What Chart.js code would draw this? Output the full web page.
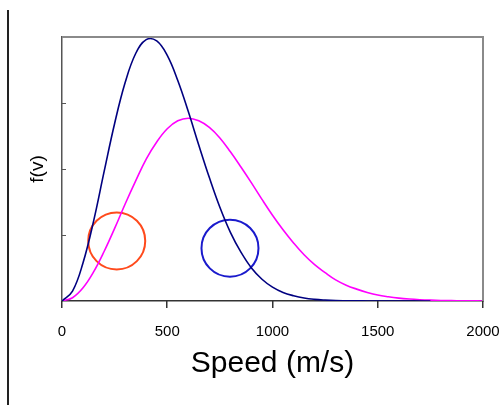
<!DOCTYPE html>
<html>
<head>
<meta charset="utf-8">
<script src="https://cdn.jsdelivr.net/npm/chart.js@4"></script>
<style>
  html, body { margin: 0; padding: 0; background: #fff; }
  #wrap { width: 501px; height: 405px; position: relative; }
</style>
</head>
<body>
<div id="wrap"><canvas id="speedChart" width="501" height="405"></canvas></div>
<script>
// speeds (m/s) sampled every 50
const speeds = [0, 50, 100, 150, 200, 250, 300, 350, 400, 450, 500, 550, 600, 650, 700, 750, 800, 850, 900, 950,
  1000, 1050, 1100, 1150, 1200, 1250, 1300, 1350, 1400, 1450, 1500, 1550, 1600, 1650, 1700, 1750, 1800, 1850, 1900, 1950, 2000];

// low temperature curve (navy), stops at 1750
const lowTemp = [0, 0.15, 0.58, 1.21, 1.96, 2.69, 3.31, 3.75, 3.96, 3.94, 3.72, 3.34, 2.87, 2.36, 1.87, 1.42, 1.04, 0.74, 0.50, 0.33,
  0.21, 0.13, 0.08, 0.045, 0.025, 0.014, 0.007, 0.004, 0.002, 0.001, 0, 0, 0, 0, 0, 0];

// high temperature curve (magenta)
const highTemp = [0, 0.05, 0.20, 0.44, 0.75, 1.10, 1.47, 1.82, 2.15, 2.41, 2.61, 2.73, 2.77, 2.73, 2.63, 2.47, 2.26, 2.03, 1.79, 1.54,
  1.30, 1.08, 0.88, 0.70, 0.55, 0.43, 0.32, 0.24, 0.18, 0.13, 0.09, 0.064, 0.044, 0.03, 0.02, 0.013, 0.008, 0.005, 0.003, 0.002, 0.001];

// highlighted regions (speed, f(v))
const slowMark = [{ x: 260, y: 0.91 }];
const fastMark = [{ x: 798, y: 0.80 }];

const xTicks = [0, 500, 1000, 1500, 2000];
const yTicks = [0, 1, 2, 3, 4];

function points(values) {
  return values.map((v, i) => ({ x: speeds[i], y: v }));
}

const framePlugin = {
  id: "frame",
  afterDraw(chart) {
    const ctx = chart.ctx;
    const a = chart.chartArea;
    const xs = chart.scales.x;
    const ys = chart.scales.y;
    ctx.save();
    ctx.strokeStyle = "#8a8a8a";
    ctx.lineWidth = 2;
    ctx.beginPath();
    ctx.moveTo(a.left, a.top);
    ctx.lineTo(a.right, a.top);
    ctx.lineTo(a.right, a.bottom);
    ctx.stroke();
    ctx.fillStyle = "#555";
    yTicks.slice(1, -1).forEach((t) => {
      const py = Math.round(ys.getPixelForValue(t));
      ctx.fillRect(a.left, py, 4, 1);
    });
    ctx.fillStyle = "#333";
    xTicks.forEach((t) => {
      const px = Math.round(xs.getPixelForValue(t));
      ctx.fillRect(px - 1, a.bottom, 1.5, 7);
    });
    // page margin rule
    ctx.fillStyle = "#222";
    ctx.fillRect(7, 10, 2, chart.height - 10);
    ctx.restore();
  }
};

new Chart(document.getElementById("speedChart"), {
  type: "line",
  data: {
    datasets: [
      {
        data: points(lowTemp),
        borderColor: "#000080",
        borderWidth: 1.6,
        pointRadius: 0,
        tension: 0.4,
        fill: false
      },
      {
        data: points(highTemp),
        borderColor: "#ff00ff",
        borderWidth: 1.6,
        pointRadius: 0,
        tension: 0.4,
        fill: false
      },
      {
        type: "scatter",
        data: slowMark,
        pointRadius: 28.5,
        pointBorderWidth: 2,
        pointBorderColor: "#ff4a1c",
        pointBackgroundColor: "rgba(0,0,0,0)"
      },
      {
        type: "scatter",
        data: fastMark,
        pointRadius: 28.5,
        pointBorderWidth: 2,
        pointBorderColor: "#1a1acc",
        pointBackgroundColor: "rgba(0,0,0,0)"
      }
    ]
  },
  options: {
    responsive: false,
    animation: false,
    layout: { autoPadding: false, padding: { top: 37, right: 18, left: 0, bottom: 23 } },
    plugins: {
      legend: { display: false },
      tooltip: { enabled: false }
    },
    scales: {
      x: {
        type: "linear",
        min: 0,
        max: 2000,
        afterBuildTicks: (s) => { s.ticks = xTicks.map((v) => ({ value: v })); },
        afterFit: (s) => { s.height = 81; },
        border: { color: "#333", width: 1.5 },
        grid: { drawOnChartArea: false, drawTicks: true, tickLength: 22, tickColor: "rgba(0,0,0,0)" },
        ticks: {
          color: "#000",
          padding: 0,
          callback: (v) => String(v),
          font: { family: "'Liberation Sans', Arial", size: 15 }
        },
        title: {
          display: true,
          text: "Speed (m/s)",
          color: "#000",
          padding: { top: 0, bottom: 0 },
          font: { family: "'Liberation Sans', Arial", size: 30 }
        }
      },
      y: {
        min: 0,
        max: 4,
        afterBuildTicks: (s) => { s.ticks = yTicks.map((v) => ({ value: v })); },
        afterFit: (s) => { s.width = 62; },
        border: { color: "#555", width: 1.5 },
        grid: { display: false },
        ticks: { display: false },
        title: {
          display: true,
          text: "f(v)",
          color: "#000",
          padding: { top: 26, bottom: 0 },
          font: { family: "'Liberation Sans', Arial", size: 19 }
        }
      }
    }
  },
  plugins: [framePlugin]
});
</script>
</body>
</html>
